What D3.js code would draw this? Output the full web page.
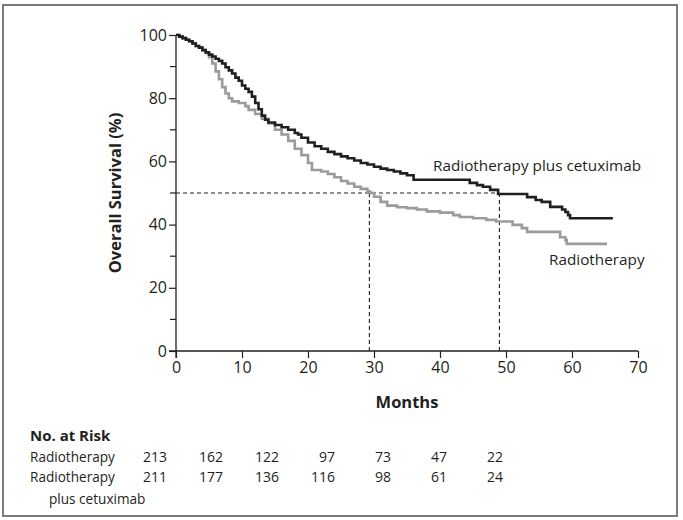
<!DOCTYPE html>
<html>
<head>
<meta charset="utf-8">
<script src="https://cdn.jsdelivr.net/npm/d3@7"></script>
<style>
  html, body { margin: 0; padding: 0; background: #fff; }
  svg { display: block; }
  text { font-family: "Open Sans", "Noto Sans", sans-serif; fill: #231f20; }
</style>
</head>
<body>
<svg id="chart" width="683" height="520"></svg>
<script>
// ---- Data ----
const xTicks = [0, 10, 20, 30, 40, 50, 60, 70];
const yTicks = [0, 20, 40, 60, 80, 100];
const yMinorTicks = [10, 30, 50, 70, 90];

// Radiotherapy plus cetuximab: [month, overall survival %]
const cetuximabCurve = [
  [0,100],[0.5,99.5],[1,99],[1.5,98.5],[2,98],[2.5,97.3],[3,96.5],[3.5,96],[4,95.2],[4.5,94.5],
  [5,93.8],[5.5,93.2],[6,92.5],[6.5,91.8],[7,91],[7.5,89.8],[8,88.8],[8.5,87.8],[9,86.5],[9.5,85.5],
  [10,84],[10.5,83],[11,82],[11.5,80.5],[12,78.5],[12.5,76.5],[13,74.5],[13.5,73.2],[14,72.3],
  [15,71.5],[16,70.8],[17,70],[18,69],[18.5,68.5],[19,67.5],[20,66],[21,64.8],[22,64],[23,63],
  [24,62.3],[25,61.6],[26,61],[27,60.3],[28,59.5],[29,59],[30,58.3],[31,57.7],[32,57.3],[33,56.8],
  [34,56.2],[35,55.6],[36,54.2],[44.5,53.2],[45.6,52.5],[46.5,52],[47.6,51],[48.8,49.7],
  [53.2,48.7],[54.5,47.8],[55.4,47.2],[56.7,45.6],[58.5,44.8],[59,44],[59.4,43],[59.7,42],[66.2,42]
];

// Radiotherapy alone
const radiotherapyCurve = [
  [0,100],[0.5,99.5],[1,99],[1.5,98.5],[2,98],[2.5,97.3],[3,96.5],[3.5,96],[4,95.2],[4.5,94.3],
  [5,93],[5.5,91],[6,88.5],[6.5,86],[7,83.5],[7.5,81.5],[8,80],[8.5,79],[9.5,78.5],[10.5,77.5],
  [11,76.3],[12,75],[13,73.5],[14,72],[15,70],[16,68.5],[17,66.5],[18,64],[19,62],[20,59.5],
  [20.6,57.3],[22,56.8],[23,56],[24,55],[25,53.8],[26,53],[27,52],[28,51.3],[29,50.5],[29.4,50],
  [30,48.8],[31,47.2],[32,46],[33.5,45.5],[35,45.2],[36.5,44.8],[38,44.2],[40,43.8],[42,43],
  [43,42.4],[45,42],[47,41.5],[48.5,41],[51,39.9],[52.4,38.9],[53.2,37.7],[58.2,36],[59,35.1],
  [59.2,33.9],[65.3,33.9]
];

const medianSurvival = { value: 50, radiotherapy: 29.3, cetuximab: 49 };

const riskMonths = [0, 10, 20, 30, 40, 50, 60];
const riskGroups = ["Radiotherapy", "Radiotherapy"];
const riskGroupSub = ["", "plus cetuximab"];
const riskRadiotherapy = [213, 162, 122, 97, 73, 47, 22];
const riskCetuximab = [211, 177, 136, 116, 98, 61, 24];

// ---- Drawing ----
const svg = d3.select("#chart");

// frame
svg.append("rect").attr("x", 3).attr("y", 5).attr("width", 674).attr("height", 511)
  .attr("fill", "none").attr("stroke", "#7a7a7a").attr("stroke-width", 2);

const x = d3.scaleLinear().domain([0, 70]).range([176, 638]);
const y = d3.scaleLinear().domain([0, 100]).range([351, 35]);

// y axis
const yAxis = svg.append("g").attr("transform", `translate(${x(0)},0)`)
  .call(d3.axisLeft(y).tickValues(yTicks).tickSize(7).tickPadding(2).tickFormat(d3.format("d")));
yAxis.select(".domain").attr("stroke", "#231f20").attr("stroke-width", 1.3).attr("d", `M0,${y(100)}V${y(0)+7}`);
yAxis.selectAll(".tick line").attr("stroke", "#231f20").attr("stroke-width", 1.2);
yAxis.selectAll("text").style("font-size", "16px").attr("fill", "#231f20");
svg.append("g").selectAll("line").data(yMinorTicks).join("line")
  .attr("x1", x(0) - 6).attr("x2", x(0)).attr("y1", d => y(d)).attr("y2", d => y(d))
  .attr("stroke", "#231f20").attr("stroke-width", 1.2);

// x axis
const xAxis = svg.append("g").attr("transform", `translate(0,${y(0)})`)
  .call(d3.axisBottom(x).tickValues(xTicks).tickSize(7).tickPadding(4).tickFormat(d3.format("d")));
xAxis.select(".domain").attr("stroke", "#231f20").attr("stroke-width", 1.3).attr("d", `M${x(0)-7},0H${x(70)}`);
xAxis.selectAll(".tick line").attr("stroke", "#231f20").attr("stroke-width", 1.2).attr("y1", 0).attr("y2", 7);
xAxis.selectAll("text").style("font-size", "16px").attr("fill", "#231f20");

// axis titles
svg.append("text").attr("transform", `translate(121,${(y(0)+y(100))/2}) rotate(-90)`)
  .attr("text-anchor", "middle").style("font-size", "16.5px").style("font-weight", "bold").text("Overall Survival (%)");
svg.append("text").attr("x", (x(0)+x(70))/2).attr("y", 408)
  .attr("text-anchor", "middle").style("font-size", "16.5px").style("font-weight", "bold").text("Months");

// median dashed reference lines
const dash = svg.append("g").attr("stroke", "#231f20").attr("stroke-width", 1.1).attr("stroke-dasharray", "4,3").attr("fill", "none");
dash.append("line").attr("x1", x(0)).attr("x2", x(medianSurvival.cetuximab))
  .attr("y1", y(medianSurvival.value)).attr("y2", y(medianSurvival.value));
dash.append("line").attr("x1", x(medianSurvival.radiotherapy)).attr("x2", x(medianSurvival.radiotherapy))
  .attr("y1", y(medianSurvival.value)).attr("y2", y(0));
dash.append("line").attr("x1", x(medianSurvival.cetuximab)).attr("x2", x(medianSurvival.cetuximab))
  .attr("y1", y(medianSurvival.value)).attr("y2", y(0));

// curves
const line = d3.line().x(d => x(d[0])).y(d => y(d[1])).curve(d3.curveStepAfter);
svg.append("path").datum(radiotherapyCurve).attr("d", line)
  .attr("fill", "none").attr("stroke", "#9b9b9b").attr("stroke-width", 2.6);
svg.append("path").datum(cetuximabCurve).attr("d", line)
  .attr("fill", "none").attr("stroke", "#231f20").attr("stroke-width", 2.6);

// curve labels
svg.append("text").attr("x", 433).attr("y", 171).style("font-size", "15.3px").text("Radiotherapy plus cetuximab");
svg.append("text").attr("x", 549).attr("y", 265).style("font-size", "15.3px").text("Radiotherapy");

// risk table
svg.append("text").attr("x", 30).attr("y", 441).style("font-size", "15px").style("font-weight", "bold").text("No. at Risk");
const riskRows = [riskRadiotherapy, riskCetuximab];
const riskX = d3.scalePoint().domain(riskMonths).range([167, 503]);
riskRows.forEach((row, i) => {
  const yy = 462 + i * 20;
  svg.append("text").attr("x", 30).attr("y", yy).style("font-size", "13.6px").text(riskGroups[i]);
  if (riskGroupSub[i]) svg.append("text").attr("x", 49).attr("y", yy + 22).style("font-size", "13.6px").text(riskGroupSub[i]);
  svg.append("g").selectAll("text").data(row).join("text")
    .attr("x", (d, j) => riskX(riskMonths[j])).attr("y", yy).attr("text-anchor", "end")
    .style("font-size", "14px").text(d => d);
});
</script>
</body>
</html>
